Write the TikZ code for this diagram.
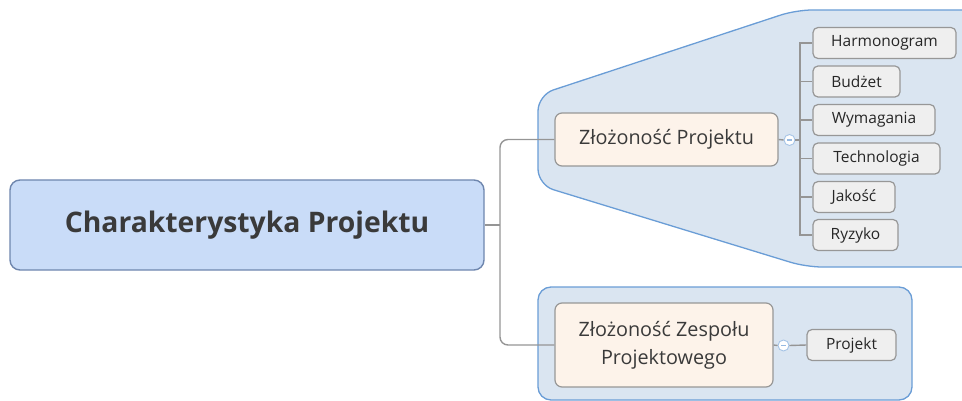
\documentclass[tikz,border=0pt]{standalone}
\usepackage{fontspec}
\setmainfont{Open Sans}
\definecolor{rootfill}{HTML}{C9DCF8}
\definecolor{rootdraw}{HTML}{6E86AE}
\definecolor{grpfill}{HTML}{DAE5F1}
\definecolor{grpdraw}{HTML}{6A9DD6}
\definecolor{subfill}{HTML}{FDF3EA}
\definecolor{leaffill}{HTML}{EFEFEF}
\definecolor{boxdraw}{HTML}{979797}
\definecolor{conncol}{HTML}{959595}
\definecolor{txt}{HTML}{3A3A3A}
\begin{document}
\begin{tikzpicture}[x=1pt,y=-1pt,
  rootbox/.style={draw=rootdraw,line width=1.4pt,fill=rootfill,rounded corners=10pt,minimum width=474pt,minimum height=90pt,inner sep=0pt,text=txt,font=\fontsize{28.3}{32}\selectfont\bfseries},
  subbox/.style={draw=boxdraw,line width=1.2pt,fill=subfill,rounded corners=7pt,inner sep=0pt,text=txt,font=\fontsize{19.8}{28}\selectfont,align=center},
  leafbox/.style={draw=boxdraw,line width=1.2pt,fill=leaffill,rounded corners=5pt,inner sep=0pt,minimum height=31pt,text=black!85,font=\fontsize{15.5}{18}\selectfont},
  grp/.style={draw=grpdraw,line width=1.3pt,fill=grpfill},
  conn/.style={draw=conncol,line width=1.4pt},
  collapse/.style={circle,draw=grpdraw!60,fill=white,line width=0.9pt,minimum size=11pt,inner sep=0pt}
]
\useasboundingbox (0,0) rectangle (962,401);
\clip (0,0) rectangle (962,401);
% group backgrounds
\path[grp,rounded corners=16pt] (990,10) -- (796,10) -- (538,95) -- (538,185) -- (806,267) -- (990,267) -- cycle;
\path[grp,rounded corners=13pt] (538,287) rectangle (912,400);
% nodes
\node[rootbox] (root) at (247,225) {Charakterystyka Projektu};
\node[subbox,minimum width=223pt,minimum height=53pt] (zp) at (666.5,139.5) {Złożoność Projektu};
\node[subbox,minimum width=218pt,minimum height=84pt] (zz) at (664,345) {Złożoność Zespołu\\Projektowego};
\node[leafbox,minimum width=143pt] (l1) at (884.5,43) {Harmonogram};
\node[leafbox,minimum width=87pt] (l2) at (856.5,81.5) {Budżet};
\node[leafbox,minimum width=122pt] (l3) at (874,120) {Wymagania};
\node[leafbox,minimum width=127pt] (l4) at (876.5,158.5) {Technologia};
\node[leafbox,minimum width=82pt] (l5) at (854,197) {Jakość};
\node[leafbox,minimum width=85pt] (l6) at (855.5,235) {Ryzyko};
\node[leafbox,minimum width=89pt] (pr) at (851.5,345) {Projekt};
% connectors
\coordinate (trunk) at (500,225);
\draw[conn] (root.east) -- (trunk);
\draw[conn,rounded corners=8pt] (zp.west) -| (trunk) |- (zz.west);
\node[collapse] (c1) at (789.5,140) {};
\node[collapse] (c2) at (783.5,345.5) {};
\draw[conn] (zp.east) -- (c1.west);
\draw[conn] (zz.east) -- (c2.west);
\coordinate (br) at (800,140);
\draw[conn] (c1.east) -- (br);
\foreach \l in {l1,l2,l3,l4,l5,l6} { \draw[conn] (br) |- (\l.west); }
\draw[conn] (c2.east) -- (pr.west);
\draw[grpdraw!70,line width=1.1pt] ([xshift=-2.5pt]c1.center) -- ([xshift=2.5pt]c1.center);
\draw[grpdraw!70,line width=1.1pt] ([xshift=-2.5pt]c2.center) -- ([xshift=2.5pt]c2.center);
\end{tikzpicture}
\end{document}
